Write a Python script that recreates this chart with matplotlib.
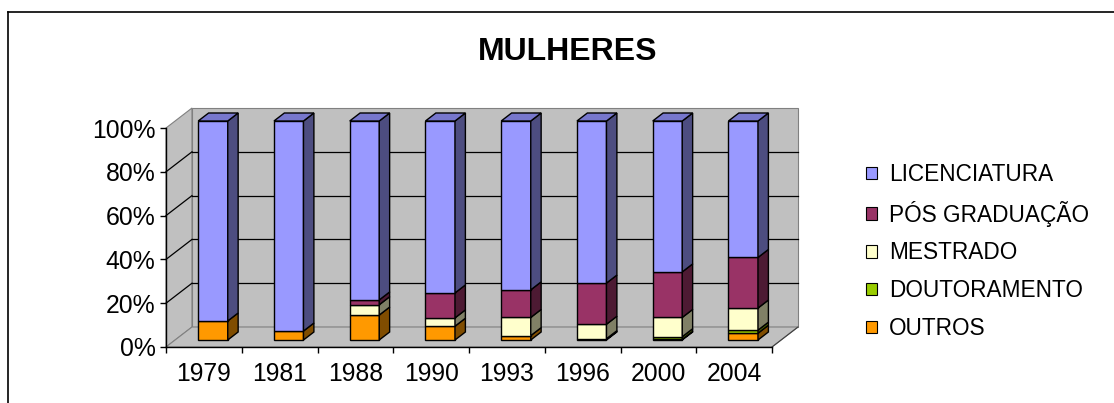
import numpy as np
import matplotlib
matplotlib.use('Agg')
import matplotlib.pyplot as plt
from matplotlib.patches import Polygon, Rectangle
from matplotlib.lines import Line2D

plt.rcParams['font.family'] = ['Liberation Sans', 'DejaVu Sans']

# data (percent of each year, bottom to top)
years = ['1979', '1981', '1988', '1990', '1993', '1996', '2000', '2004']
outros = [8.7, 4.1, 11.4, 6.3, 2.0, 0.3, 0.3, 3.1]
doutoramento = [0.0, 0.0, 0.0, 0.0, 0.0, 0.3, 1.2, 1.4]
mestrado = [0.0, 0.0, 4.7, 3.8, 8.3, 6.6, 8.8, 10.1]
pos_graduacao = [0.0, 0.0, 2.2, 11.4, 12.6, 18.8, 20.8, 23.1]
licenciatura = [91.3, 95.9, 81.7, 78.5, 77.1, 74.0, 68.9, 62.3]

series_names = ['OUTROS', 'DOUTORAMENTO', 'MESTRADO', 'PÓS GRADUAÇÃO', 'LICENCIATURA']
front_cols = ['#FF9900', '#99CC00', '#FFFFCC', '#993366', '#9999FF']
side_cols = ['#804D00', '#4D6600', '#808066', '#4D1A33', '#4D4D80']
top_cols = ['#CC7A00', '#7AA300', '#CCCCA3', '#7A2952', '#7777CC']

W, H = 1114, 403
fig = plt.figure(figsize=(W / 100, H / 100), dpi=100)

# front plane of the plot: x 0..8 categories, y 0..100 %
x0, x1, y0, y1 = 166, 772, 347, 128
ax = fig.add_axes([x0 / W, 1 - y0 / H, (x1 - x0) / W, (y0 - y1) / H])
n = len(years)
ax.set_xlim(0, n)
ax.set_ylim(0, 100)
ax.patch.set_visible(False)

# depth of the 3d box in data units
px_x = (x1 - x0) / n
px_y = (y0 - y1) / 100
DX = 26 / px_x
DY = 20 / px_y

wall = '#C0C0C0'
wall_edge = '#808080'

def poly(pts, fc, ec, lw=0.8, z=1):
    ax.add_patch(Polygon(pts, closed=True, facecolor=fc, edgecolor=ec,
                         linewidth=lw, zorder=z, clip_on=False))

# walls and floor
poly([(0, 0), (DX, DY), (DX, 100 + DY), (0, 100)], wall, wall_edge)
poly([(DX, DY), (n + DX, DY), (n + DX, 100 + DY), (DX, 100 + DY)], wall, wall_edge)
poly([(0, 0), (n, 0), (n + DX, DY), (DX, DY)], wall, wall_edge)
ax.plot([n, n + DX], [0, DY], color='#404040', lw=0.8, clip_on=False, zorder=1.5)

for v in range(20, 100, 20):
    ax.plot([DX, n + DX], [v + DY, v + DY], color='black', lw=0.9, clip_on=False, zorder=1.2)
    ax.plot([0, DX], [v, v + DY], color='black', lw=0.9, clip_on=False, zorder=1.2)

# bars
data = np.array([outros, doutoramento, mestrado, pos_graduacao, licenciatura], dtype=float)
data = data / data.sum(axis=0) * 100
bw = 0.39
df, db = 0.35, 0.75
ox_f, oy_f = df * DX, df * DY
ox_b, oy_b = db * DX, db * DY

for i in range(n):
    left = i + 0.5 - bw / 2 + ox_f
    right = left + bw
    base = 0.0
    for s in range(len(series_names)):
        h = data[s, i]
        if h <= 0:
            continue
        yb = base + oy_f
        yt = base + h + oy_f
        poly([(left, yb), (right, yb), (right, yt), (left, yt)], front_cols[s], 'black', 1.0, 3)
        dxs, dys = ox_b - ox_f, oy_b - oy_f
        poly([(right, yb), (right + dxs, yb + dys), (right + dxs, yt + dys), (right, yt)],
             side_cols[s], 'black', 1.0, 3)
        base += h
    yt = base + oy_f
    dxs, dys = ox_b - ox_f, oy_b - oy_f
    poly([(left, yt), (right, yt), (right + dxs, yt + dys), (left + dxs, yt + dys)],
         top_cols[-1], 'black', 1.0, 3)

# axes
for side in ['top', 'right']:
    ax.spines[side].set_visible(False)
ax.spines['left'].set_color('black')
ax.spines['bottom'].set_color('black')
ax.spines['left'].set_linewidth(1.0)
ax.spines['bottom'].set_linewidth(1.0)
ax.set_yticks(range(0, 101, 20))
ax.set_yticklabels([f'{v}%' for v in range(0, 101, 20)])
ax.tick_params(axis='y', direction='out', length=4, width=1.0, pad=3.5, labelsize=17.8)
ax.set_xticks(np.arange(n) + 0.5)
ax.set_xticklabels(years)
ax.set_xticks(np.arange(n + 1), minor=True)
ax.tick_params(axis='x', which='major', length=0, pad=11, labelsize=17.8)
ax.tick_params(axis='x', which='minor', direction='out', length=4, width=1.0)

# legend
handles = [Rectangle((0, 0), 1, 1, facecolor=front_cols[s], edgecolor='black', linewidth=0.8)
           for s in range(len(series_names))][::-1]
fig.legend(handles, series_names[::-1], loc='upper left',
           bbox_to_anchor=(866 / W, 1 - 163 / H), frameon=False, fontsize=16.3,
           handlelength=0.48, handleheight=0.48, handletextpad=0.55,
           labelspacing=0.65, borderpad=0, borderaxespad=0)

fig.text(568 / W, 1 - 52 / H, 'MULHERES', ha='center', va='center',
         fontsize=23, fontweight='bold')

# outer chart frame
fig.add_artist(Line2D([8 / W, 1], [1 - 12 / H, 1 - 12 / H], color='black', lw=1.2,
                      transform=fig.transFigure))
fig.add_artist(Line2D([8 / W, 8 / W], [1 - 12 / H, 0], color='black', lw=1.2,
                      transform=fig.transFigure))

fig.savefig('out.png', dpi=100)
